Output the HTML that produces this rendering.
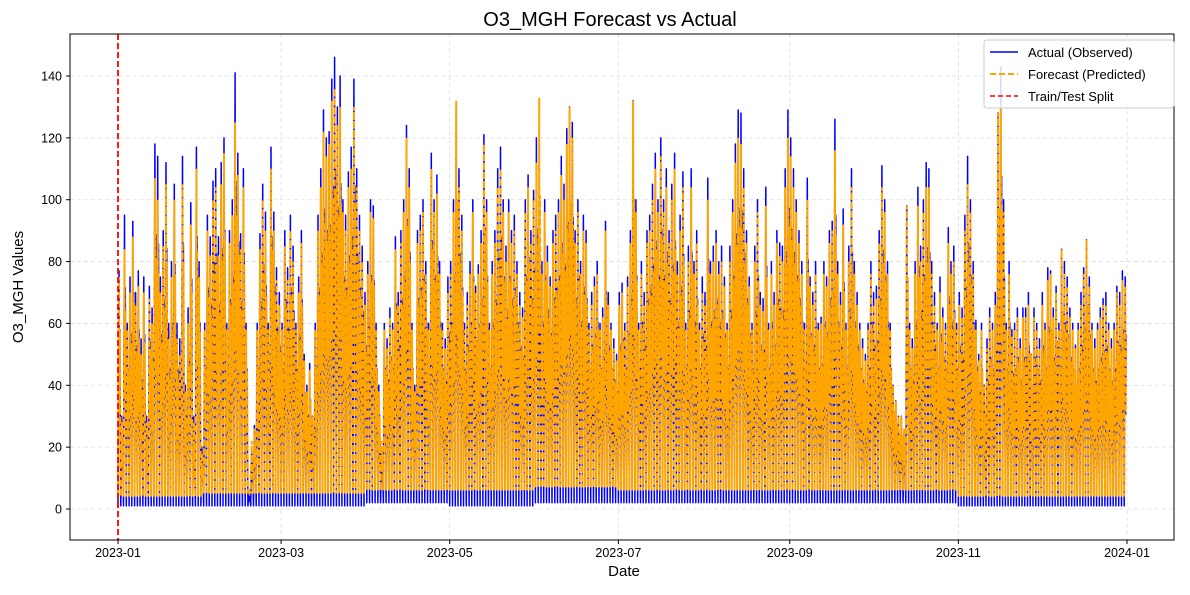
<!DOCTYPE html>
<html><head><meta charset="utf-8"><style>
body{margin:0;background:#fff;}
svg{font-family:"Liberation Sans","DejaVu Sans",sans-serif;}
</style></head><body>
<svg id="chart" width="1190" height="590">
<rect width="1190" height="590" fill="#fff"/>
<text x="610" y="26" font-size="20" text-anchor="middle">O3_MGH Forecast vs Actual</text>
<g id="grid"></g>
<g id="ticks"></g>
<g id="series"></g>
<rect x="70" y="34" width="1104" height="506" fill="none" stroke="#000" stroke-width="1"/>
<text x="624" y="576" font-size="15" text-anchor="middle">Date</text>
<text transform="translate(23,287) rotate(-90)" font-size="15" text-anchor="middle">O3_MGH Values</text>
<g>
<rect x="984" y="40" width="190" height="68" rx="3" fill="#fff" fill-opacity="0.85" stroke="#ccc"/>
<g><line x1="990" y1="52" x2="1018" y2="52" stroke="blue" stroke-width="1.5"/><text x="1028" y="57" font-size="13">Actual (Observed)</text></g>
<g><line x1="990" y1="74" x2="1018" y2="74" stroke="orange" stroke-width="2" stroke-dasharray="6,3"/><text x="1028" y="79" font-size="13">Forecast (Predicted)</text></g>
<g><line x1="990" y1="96" x2="1018" y2="96" stroke="red" stroke-width="1.5" stroke-dasharray="5,3"/><text x="1028" y="101" font-size="13">Train/Test Split</text></g>
</g>
</svg>
<script>
const yTicks=[0,20,40,60,80,100,120,140];
const xTickLabels=["2023-01","2023-03","2023-05","2023-07","2023-09","2023-11","2024-01"];
const xTickDays=[0,59,120,181,243,304,365];
const splitDay=0;
const actualPeaks=[77,30,95,60,75,93,70,77,55,75,30,72,65,118,114,75,90,112,60,80,105,60,55,114,40,65,99,30,117,80,20,
60,95,88,106,110,88,112,120,60,90,100,141,115,89,110,60,5,20,27,60,89,105,96,60,117,96,78,70,
60,90,78,95,85,60,75,90,50,40,47,30,60,95,110,129,120,122,139,146,130,140,100,95,109,117,139,110,95,85,70,
80,100,98,60,40,20,60,55,65,60,88,70,90,100,124,110,60,40,90,95,100,80,60,115,100,108,80,60,55,75,
80,100,130,110,95,60,70,80,100,72,79,90,121,100,60,80,90,110,117,100,85,100,90,95,80,70,65,100,108,90,103,
120,100,80,100,85,75,90,95,100,114,105,123,130,125,90,100,80,95,90,60,70,75,80,60,65,93,70,60,55,50,
70,73,60,75,90,132,100,60,80,70,90,95,105,115,100,120,100,110,90,105,115,80,95,109,60,85,110,80,90,60,75,
70,107,80,85,90,80,85,75,60,85,100,118,129,128,110,90,75,60,85,100,70,68,104,60,80,70,90,86,85,110,129,
120,110,100,90,80,60,107,75,70,80,60,62,80,75,90,93,126,80,70,97,60,85,110,80,70,60,55,50,60,80,
70,72,90,111,100,80,60,40,35,30,30,25,98,60,55,80,104,85,100,112,110,80,70,60,75,65,60,91,80,85,60,
70,65,95,114,100,80,61,50,60,40,55,65,60,70,128,143,100,60,80,58,60,65,55,65,65,70,50,65,60,55,
70,60,78,77,65,72,60,84,80,75,65,60,53,60,70,78,87,75,60,55,60,65,68,70,60,55,60,72,70,77,75];
const forecastPeaks=[75,28,84,58,70,88,66,72,50,70,28,68,60,107,100,70,85,105,55,75,100,55,50,105,38,60,92,28,110,75,18,
58,90,82,100,104,82,105,115,58,86,95,125,108,84,104,58,6,22,26,58,84,100,90,58,110,90,74,66,
58,85,74,90,80,58,70,86,48,38,45,30,58,90,104,122,114,118,132,136,124,130,96,90,104,110,130,104,90,80,66,
76,96,94,58,38,22,58,52,62,58,84,66,86,96,120,104,58,38,86,90,96,76,58,110,96,102,76,58,52,70,
76,96,132,104,90,58,66,76,96,70,76,86,118,96,58,76,86,104,110,96,80,96,86,90,76,66,62,96,104,86,100,
112,133,76,96,80,72,86,90,96,108,100,118,130,120,86,96,76,90,86,58,66,72,76,58,62,90,66,58,52,48,
66,70,58,72,86,132,96,58,76,66,86,90,100,110,96,114,96,104,86,100,110,76,90,104,58,80,104,76,86,58,70,
66,100,76,80,86,76,80,72,58,80,96,112,120,118,104,86,72,58,80,96,66,64,98,58,76,66,86,82,80,104,120,
114,104,96,86,76,58,100,72,66,76,58,60,76,72,86,90,116,76,66,92,58,80,104,76,66,58,52,48,58,76,
66,68,86,104,96,76,58,40,35,30,30,26,98,58,52,76,98,80,96,104,104,76,66,58,70,62,58,86,76,80,58,
66,62,90,105,96,76,58,48,58,40,52,62,58,66,128,130,96,58,76,56,58,62,52,62,62,66,50,62,58,52,
66,58,74,76,62,70,58,84,76,72,62,58,52,58,66,76,87,72,58,52,58,62,66,66,58,52,58,70,66,74,72];
const actualMonthlyMin=[1,1,1,2,1,2,2,2,2,2,1,1];
const forecastMonthlyMin=[4,5,5,6,6,7,6,6,6,6,4,4];
const monthStart=[0,31,59,90,120,151,181,212,243,273,304,334,365];

const X0=118,X1=1127,Y0=509,Y140=76;
const xs=d=>X0+(X1-X0)*d/365;
const ys=v=>Y0-(Y0-Y140)*v/140;
const NS="http://www.w3.org/2000/svg";
const grid=document.getElementById('grid'),ticks=document.getElementById('ticks'),ser=document.getElementById('series');
function mk(tag,attrs,parent){const e=document.createElementNS(NS,tag);for(const k in attrs)e.setAttribute(k,attrs[k]);parent.appendChild(e);return e;}
yTicks.forEach(v=>{
 const g=mk('line',{x1:70,x2:1174,y1:ys(v),y2:ys(v),stroke:'#ddd','stroke-dasharray':'4,3','stroke-width':0.8},grid);
 
 
 mk('line',{x1:66,x2:70,y1:ys(v),y2:ys(v),stroke:'#000'},ticks);
 const t=mk('text',{x:62,y:ys(v)+4.5,'font-size':12.5,'text-anchor':'end'},ticks);t.textContent=v;
 
 
});
xTickDays.forEach((d,i)=>{
 const g=mk('line',{x1:xs(d),x2:xs(d),y1:34,y2:540,stroke:'#ddd','stroke-dasharray':'4,3','stroke-width':0.8},grid);
 
 
 mk('line',{x1:xs(d),x2:xs(d),y1:540,y2:544,stroke:'#000'},ticks);
 const t=mk('text',{x:xs(d),y:557,'font-size':12.5,'text-anchor':'middle'},ticks);t.textContent=xTickLabels[i];
 
 
});
function monthOf(d){for(let m=0;m<12;m++)if(d<monthStart[m+1])return m;return 11;}
function path(peaks,mins){
 let s='';
 peaks.forEach((p,d)=>{const mn=mins[monthOf(d)];
  s+=(d?'L':'M')+xs(d).toFixed(1)+','+ys(mn).toFixed(1)
   +'L'+xs(d+0.35).toFixed(1)+','+ys(p).toFixed(1)
   +'L'+xs(d+0.5).toFixed(1)+','+ys(mn+(p-mn)*0.4).toFixed(1)
   +'L'+xs(d+0.65).toFixed(1)+','+ys(mn+(p-mn)*0.75).toFixed(1);});
 return s;
}
const a=mk('path',{d:path(actualPeaks,actualMonthlyMin),fill:'none',stroke:'blue','stroke-width':1.5,'stroke-linejoin':'round'},ser);


const f=mk('path',{d:path(forecastPeaks,forecastMonthlyMin),fill:'none',stroke:'orange','stroke-width':2,'stroke-dasharray':'7,2'},ser);


const sp=mk('line',{x1:xs(splitDay),x2:xs(splitDay),y1:34,y2:540,stroke:'red','stroke-width':1.8,'stroke-dasharray':'6,3'},ser);


</script>
</body></html>
